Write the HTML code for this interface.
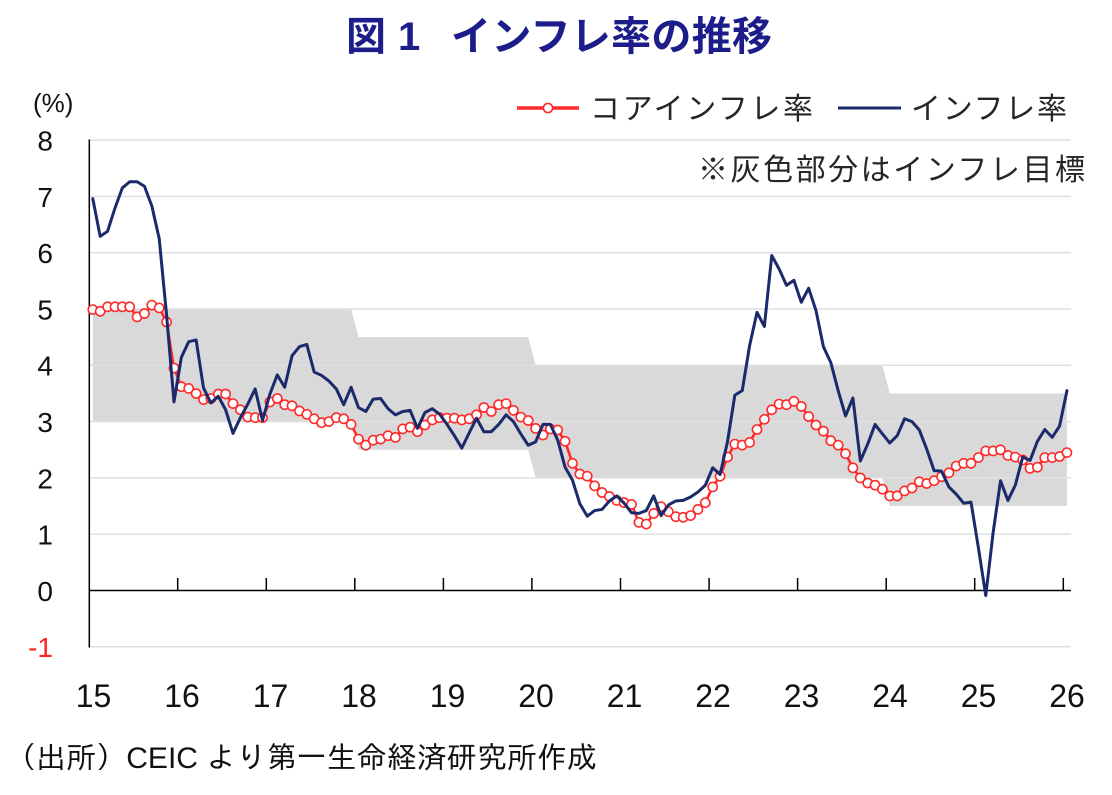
<!DOCTYPE html>
<html lang="ja">
<head>
<meta charset="utf-8">
<style>
html,body{margin:0;padding:0;background:#fff;}
svg{display:block;}
</style>
</head>
<body>
<svg width="1112" height="795" viewBox="0 0 1112 795" xmlns="http://www.w3.org/2000/svg">
<defs>
<marker id="mk" markerWidth="14" markerHeight="14" refX="7" refY="7" markerUnits="userSpaceOnUse" overflow="visible">
<circle cx="7" cy="7" r="4.6" fill="#fff" stroke="#ff2a2a" stroke-width="1.6"/>
</marker>
</defs>
<rect width="1112" height="795" fill="#fff"/>

<!-- Title -->
<g fill="#1c1c8a" font-family="'Noto Sans CJK JP','Liberation Sans',sans-serif" font-weight="700" font-size="40">
<text x="346" y="50">図</text>
<text x="398" y="50" font-family="'Liberation Sans',sans-serif">1</text>
<text x="451" y="50" textLength="321" lengthAdjust="spacing">インフレ率の推移</text>
</g>

<!-- Target band -->
<polygon fill="#d9d9d9" points="92.8,309.0 351.1,309.0 358.5,337.15 528.2,337.15 535.6,365.3 882.4,365.3 889.8,393.45 1066.9,393.45 1066.9,506.05 889.8,506.05 882.4,477.9 535.6,477.9 528.2,449.75 358.5,449.75 351.1,421.6 92.8,421.6"/>

<!-- Gridlines -->
<g stroke="#e0e0e0" stroke-width="1.5">
<line x1="89" y1="140.1" x2="1071" y2="140.1"/>
<line x1="89" y1="196.4" x2="1071" y2="196.4"/>
<line x1="89" y1="252.7" x2="1071" y2="252.7"/>
<line x1="89" y1="309.0" x2="1071" y2="309.0"/>
<line x1="89" y1="365.3" x2="1071" y2="365.3"/>
<line x1="89" y1="421.6" x2="1071" y2="421.6"/>
<line x1="89" y1="477.9" x2="1071" y2="477.9"/>
<line x1="89" y1="534.2" x2="1071" y2="534.2"/>
<line x1="89" y1="646.8" x2="1071" y2="646.8"/>
</g>

<!-- Axes -->
<g stroke="#000" stroke-width="1.5">
<line x1="89.3" y1="139.5" x2="89.3" y2="647.5"/>
<line x1="89" y1="590.5" x2="1071" y2="590.5"/>
<line x1="177.7" y1="590.5" x2="177.7" y2="578"/>
<line x1="266.3" y1="590.5" x2="266.3" y2="578"/>
<line x1="354.8" y1="590.5" x2="354.8" y2="578"/>
<line x1="443.4" y1="590.5" x2="443.4" y2="578"/>
<line x1="531.9" y1="590.5" x2="531.9" y2="578"/>
<line x1="620.5" y1="590.5" x2="620.5" y2="578"/>
<line x1="709.1" y1="590.5" x2="709.1" y2="578"/>
<line x1="797.6" y1="590.5" x2="797.6" y2="578"/>
<line x1="886.2" y1="590.5" x2="886.2" y2="578"/>
<line x1="974.7" y1="590.5" x2="974.7" y2="578"/>
<line x1="1063.3" y1="590.5" x2="1063.3" y2="578"/>
</g>

<!-- Core inflation (red with markers) -->
<polyline fill="none" stroke="#ff2a2a" stroke-width="2.6" stroke-linejoin="round" marker-start="url(#mk)" marker-mid="url(#mk)" marker-end="url(#mk)" points="92.8,309.6 100.2,311.3 107.6,306.8 115.0,306.8 122.3,306.8 129.7,306.8 137.1,316.9 144.5,313.5 151.8,305.1 159.2,307.9 166.6,322.0 174.0,368.1 181.4,386.7 188.7,388.4 196.1,393.5 203.5,399.6 210.9,398.5 218.3,394.0 225.6,394.0 233.0,403.6 240.4,409.8 247.8,417.1 255.2,417.7 262.5,417.7 269.9,401.9 277.3,398.5 284.7,404.7 292.0,405.8 299.4,410.9 306.8,414.3 314.2,418.8 321.6,422.7 328.9,421.6 336.3,417.7 343.7,418.8 351.1,424.4 358.5,439.1 365.8,445.2 373.2,440.2 380.6,439.1 388.0,435.7 395.4,437.4 402.7,428.9 410.1,427.2 417.5,431.7 424.9,425.0 432.3,419.9 439.6,417.7 447.0,418.2 454.4,418.2 461.8,419.9 469.2,418.8 476.5,414.8 483.9,407.5 491.3,411.5 498.7,404.7 506.1,403.6 513.4,410.3 520.8,417.1 528.2,420.5 535.6,428.4 543.0,435.1 550.3,428.9 557.7,430.0 565.1,441.3 572.5,463.3 579.9,474.0 587.2,476.2 594.6,485.8 602.0,492.5 609.4,496.5 616.8,500.4 624.1,502.7 631.5,504.4 638.9,522.4 646.3,524.1 653.7,513.4 661.0,506.6 668.4,511.7 675.8,516.7 683.2,517.3 690.6,515.6 697.9,509.4 705.3,502.7 712.7,486.9 720.1,476.2 727.5,457.1 734.8,444.1 742.2,445.2 749.6,442.4 757.0,429.5 764.4,419.3 771.7,409.8 779.1,404.1 786.5,404.7 793.9,401.3 801.3,406.4 808.6,416.5 816.0,425.0 823.4,431.2 830.8,440.7 838.2,445.2 845.5,453.7 852.9,467.8 860.3,477.9 867.7,483.0 875.1,485.2 882.4,489.2 889.8,495.9 897.2,495.9 904.6,490.9 912.0,488.0 919.3,481.8 926.7,483.5 934.1,480.7 941.5,476.8 948.9,472.8 956.2,466.1 963.6,463.3 971.0,463.3 978.4,457.6 985.8,450.9 993.1,450.9 1000.5,449.8 1007.9,455.4 1015.3,457.1 1022.7,459.9 1030.0,468.3 1037.4,467.2 1044.8,457.6 1052.2,457.6 1059.6,456.5 1066.9,452.6"/>

<!-- Headline inflation (navy) -->
<g transform="matrix(7.38,0,0,-56.3,92.79,590.5)">
<polyline fill="none" stroke="#1b2a6b" stroke-width="3" stroke-linejoin="round" stroke-linecap="round" vector-effect="non-scaling-stroke" points="0,6.96 1,6.29 2,6.38 3,6.79 4,7.15 5,7.26 6,7.26 7,7.18 8,6.83 9,6.25 10,4.89 11,3.35 12,4.14 13,4.42 14,4.45 15,3.60 16,3.33 17,3.45 18,3.21 19,2.79 20,3.07 21,3.31 22,3.58 23,3.02 24,3.49 25,3.83 26,3.61 27,4.17 28,4.33 29,4.37 30,3.88 31,3.82 32,3.72 33,3.58 34,3.30 35,3.61 36,3.25 37,3.18 38,3.40 39,3.41 40,3.23 41,3.12 42,3.18 43,3.20 44,2.88 45,3.16 46,3.23 47,3.13 48,2.95 49,2.75 50,2.53 51,2.80 52,3.06 53,2.82 54,2.82 55,2.95 56,3.12 57,3.00 58,2.78 59,2.58 60,2.64 61,2.95 62,2.95 63,2.67 64,2.19 65,1.96 66,1.54 67,1.32 68,1.42 69,1.44 70,1.59 71,1.68 72,1.55 73,1.38 74,1.37 75,1.42 76,1.68 77,1.33 78,1.52 79,1.59 80,1.60 81,1.66 82,1.75 83,1.87 84,2.18 85,2.06 86,2.64 87,3.47 88,3.55 89,4.35 90,4.94 91,4.69 92,5.95 93,5.71 94,5.42 95,5.51 96,5.12 97,5.37 98,4.97 99,4.33 100,4.05 101,3.55 102,3.10 103,3.42 104,2.30 105,2.60 106,2.95 107,2.78 108,2.62 109,2.75 110,3.05 111,3.00 112,2.85 113,2.51 114,2.13 115,2.12 116,1.84 117,1.71 118,1.55 119,1.57 120,0.76 121,-0.09 122,1.03 123,1.95 124,1.60 125,1.87 126,2.37 127,2.31 128,2.65 129,2.86 130,2.72 131,2.92 132,3.55"/>
</g>

<!-- Y axis labels -->
<g font-family="'Liberation Sans',sans-serif" font-size="28" fill="#111" text-anchor="end">
<text x="53" y="150.5">8</text>
<text x="53" y="206.8">7</text>
<text x="53" y="263.1">6</text>
<text x="53" y="319.4">5</text>
<text x="53" y="375.7">4</text>
<text x="53" y="432.0">3</text>
<text x="53" y="488.3">2</text>
<text x="53" y="544.6">1</text>
<text x="53" y="600.9">0</text>
<text x="53" y="657.2" fill="#ff2020">-1</text>
</g>
<text x="33" y="112" font-family="'Liberation Sans',sans-serif" font-size="26" fill="#111">(%)</text>

<!-- X axis labels -->
<g font-family="'Liberation Sans',sans-serif" font-size="32" fill="#111" text-anchor="middle">
<text x="93.5" y="707">15</text>
<text x="182" y="707">16</text>
<text x="270.5" y="707">17</text>
<text x="359" y="707">18</text>
<text x="447.5" y="707">19</text>
<text x="536" y="707">20</text>
<text x="624.5" y="707">21</text>
<text x="713" y="707">22</text>
<text x="801.5" y="707">23</text>
<text x="890" y="707">24</text>
<text x="978.5" y="707">25</text>
<text x="1067" y="707">26</text>
</g>

<!-- Legend -->
<line x1="517" y1="108" x2="579" y2="108" stroke="#ff2a2a" stroke-width="3.5"/>
<circle cx="548" cy="108" r="4.6" fill="#fff" stroke="#ff2a2a" stroke-width="1.6"/>
<line x1="838" y1="108" x2="901" y2="108" stroke="#1b2a6b" stroke-width="3"/>
<g font-family="'Liberation Sans','Noto Sans CJK JP',sans-serif" font-size="30" fill="#262626">
<text x="590" y="119" textLength="223" lengthAdjust="spacing">コアインフレ率</text>
<text x="911" y="119" textLength="156" lengthAdjust="spacing">インフレ率</text>
<text x="698" y="180" textLength="387" lengthAdjust="spacing">※灰色部分はインフレ目標</text>
</g>

<!-- Source -->
<text x="6" y="768" font-family="'Liberation Sans','IPAGothic','Noto Sans CJK JP',sans-serif" font-size="30" fill="#111" textLength="591" lengthAdjust="spacingAndGlyphs">（出所）CEIC より第一生命経済研究所作成</text>
</svg>
</body>
</html>
